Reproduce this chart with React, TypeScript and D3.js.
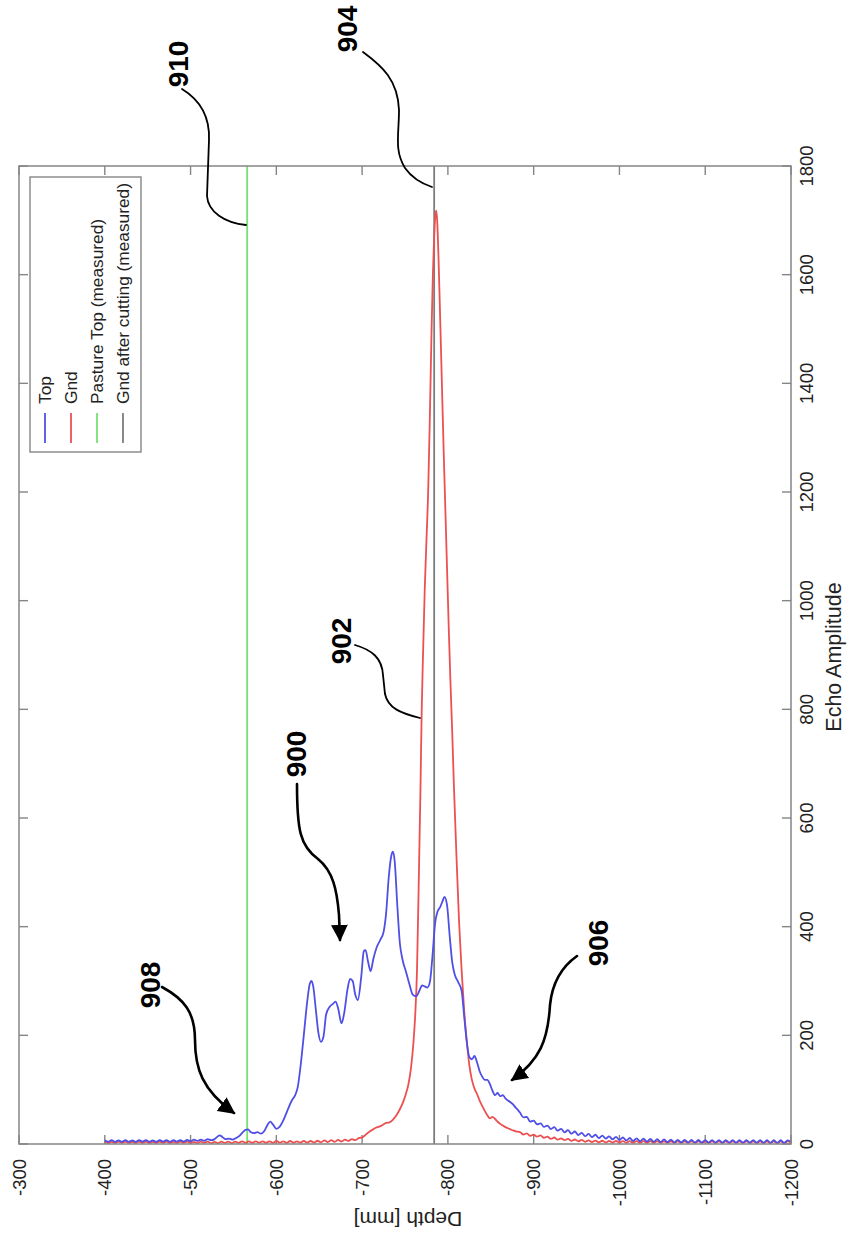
import React from "react";
import * as d3 from "d3";

const W = 853;
const H = 1251;
const PLOT = { left: 19, right: 791, top: 166, bottom: 1144 };

const depthTicks = [-300, -400, -500, -600, -700, -800, -900, -1000, -1100, -1200];
const ampTicks = [0, 200, 400, 600, 800, 1000, 1200, 1400, 1600, 1800];

const legendLabels = ["Top", "Gnd", "Pasture Top (measured)", "Gnd after cutting (measured)"];
const seriesColors = ["#4f4fe6", "#ec5050", "#74e274", "#7d7d7d"];

// measured reference depths (mm)
const PASTURE_TOP_DEPTH = -566;
const GND_CUT_DEPTH = -784;

// uniformly sampled stretches: amplitude every 4 mm
const SAMPLE_STEP = -4;

// "Top" echo
const TOP_HEAD_START = -400;
const topHead = [
  7, 4, 7, 4, 6.5, 4, 7, 4, 6.5, 4,
  7, 4.5, 7, 4, 6.5, 4, 7, 4.5, 7, 4,
  7, 4.5, 7, 4.5, 7.5, 5, 8, 5.5, 8, 6,
  9, 7,
];
const topBody: [number, number][] = [
  [-528, 9], [-531, 13], [-534, 16], [-537, 13], [-541, 9], [-545, 10], [-549, 8],
  [-553, 11], [-557, 15], [-561, 22], [-564, 26], [-567, 27], [-570, 22], [-574, 20],
  [-578, 22], [-582, 19], [-586, 24], [-590, 36], [-593, 41], [-596, 36], [-600, 28],
  [-604, 32], [-608, 43], [-613, 62], [-618, 80], [-622, 90], [-625, 105], [-628, 140],
  [-632, 200], [-636, 262], [-639, 295], [-641, 300], [-643, 290], [-646, 248],
  [-649, 205], [-652, 188], [-655, 198], [-658, 238], [-662, 252], [-666, 258],
  [-669, 262], [-672, 250], [-676, 222], [-679, 240], [-683, 285], [-686, 304],
  [-689, 300], [-692, 275], [-695, 265], [-699, 308], [-702, 355], [-704, 357],
  [-707, 335], [-710, 318], [-713, 340], [-717, 362], [-721, 375], [-725, 390],
  [-728, 425], [-731, 490], [-734, 530], [-736, 538], [-738, 520], [-741, 440],
  [-744, 370], [-747, 340], [-751, 318], [-755, 295], [-759, 275], [-763, 272],
  [-767, 283], [-770, 292], [-773, 290], [-776, 288], [-779, 298], [-782, 345],
  [-785, 405], [-788, 428], [-791, 436], [-794, 448], [-796, 455], [-799, 440],
  [-802, 385], [-805, 335], [-808, 312], [-812, 298], [-816, 282], [-819, 235],
  [-822, 188], [-825, 160], [-828, 156], [-831, 162], [-834, 150], [-837, 134],
  [-840, 124], [-843, 118], [-846, 118], [-849, 110], [-852, 98], [-855, 90],
  [-858, 94], [-861, 88], [-864, 90], [-867, 84], [-870, 80], [-873, 77],
  [-876, 73], [-879, 67], [-882, 62],
];
const TOP_TAIL_START = -884;
const topTail = [
  58, 49, 50, 41, 43, 36, 38, 31.5, 34, 27.5,
  31, 24.5, 28, 21.5, 25.5, 19, 23, 16.5, 20.5, 14.5,
  18.5, 12.5, 17, 11, 15.5, 10, 14, 8.5, 13, 7.5,
  12, 6.5, 11, 5.5, 10.3, 5, 9.7, 4.5, 9.2, 4,
  8.8, 3.5, 8.4, 3.2, 8, 2.9, 7.7, 2.8, 7.6, 2.7,
  7.5, 2.6, 7.4, 2.6, 7.3, 2.5, 7.3, 2.5, 7.2, 2.5,
  7.2, 2.4, 7.1, 2.4, 7.1, 2.4, 7, 2.3, 7, 2.3,
  7, 2.3, 6.9, 2.3, 6.9, 2.2, 6.9, 2.2, 6.8, 4,
];

// "Gnd" echo
const GND_HEAD_START = -400;
const gndHead = [
  4.5, 1.5, 4, 1.5, 4.5, 2, 4.5, 1.5, 4, 1.5,
  4.5, 2, 4.5, 1.5, 4, 1.5, 4.5, 2, 4.5, 1.5,
  4, 1.5, 4.5, 2, 4.5, 1.5, 4, 1.5, 4.5, 2,
  4.5, 1.5, 4, 1.5, 4.5, 2, 4.5, 1.5, 4.5, 2,
  5, 2, 5, 2, 5, 2.5, 5, 2, 5, 2,
  5.5, 2.5, 5, 2, 5.5, 2.5, 5, 2.5, 5.5, 2.5,
  5.5, 2.5, 6, 3, 6.5, 3.5, 7, 4, 7.5, 4.5,
  8, 5.5, 9, 7, 11,
];
const gndBody: [number, number][] = [
  [-700, 12], [-704, 17], [-708, 22], [-712, 26], [-716, 30], [-720, 32], [-724, 35],
  [-728, 39], [-732, 40], [-736, 45], [-740, 53], [-744, 64], [-748, 78], [-751, 92],
  [-754, 110], [-757, 140], [-760, 190], [-762, 240], [-764, 320], [-766, 480],
  [-768, 650], [-769.5, 800], [-771, 900], [-773, 1020], [-775, 1110], [-777, 1200],
  [-779, 1340], [-781, 1500], [-782.5, 1600], [-784, 1670], [-785.5, 1710],
  [-786.5, 1718], [-787.5, 1700], [-789, 1635], [-791, 1520], [-793, 1400],
  [-795, 1280], [-797, 1170], [-799, 1060], [-801, 950], [-803, 850], [-805, 760],
  [-807, 660], [-810, 530], [-813, 410], [-816, 320], [-819, 245], [-822, 190],
  [-825, 145], [-828, 118], [-831, 102], [-834, 92], [-837, 80], [-840, 70],
  [-843, 61], [-846, 53], [-849, 47], [-852, 50], [-855, 46], [-858, 41],
  [-861, 37], [-864, 34], [-867, 31], [-870, 29], [-873, 27], [-876, 25], [-880, 23],
];
const GND_TAIL_START = -884;
const gndTail = [
  22, 17.5, 19.5, 15, 17, 13.5, 16, 11.5, 13.5, 9.5,
  12, 8, 10.5, 7, 9.5, 5.8, 8.3, 4.9, 7.5, 4.1,
  6.8, 3.5, 6.3, 3.1, 6, 2.8, 5.7, 2.6, 5.5, 2.5,
  5.4, 2.4, 5.3, 2.3, 5.3, 2.3, 5.2, 2.3, 5.2, 2.2,
  5.2, 2.2, 5.1, 2.2, 5.1, 2.2, 5.1, 2.1, 5, 2.1,
  5, 2.1, 5, 2.1, 5, 2.1, 5, 2, 4.9, 2,
  4.9, 2, 4.9, 2, 4.9, 2, 4.9, 2, 4.8, 2,
  4.8, 2, 4.8, 2, 4.8, 2, 4.8, 2, 4.8, 3,
];

// callout labels: text, label centre, leader path, arrowhead
const callouts = [
  { label: "910", cx: 178, cy: 64, d: "M182,89 C200,100 210,116 209,140 L207,196 C208,212 225,223 246,225", arrow: false, w: 1.8 },
  { label: "904", cx: 347, cy: 29, d: "M363,52 C382,66 398,80 399,110 C399,135 394,150 405,168 C412,178 420,183 432,187", arrow: false, w: 1.8 },
  { label: "902", cx: 341, cy: 641, d: "M355,645 C372,650 382,658 383,675 L385,694 C388,708 400,713 420,718", arrow: false, w: 1.8 },
  { label: "900", cx: 296, cy: 754, d: "M297,784 C297,830 300,846 318,859 C333,871 337,890 339,915 L340,940", arrow: true, w: 2.6 },
  { label: "908", cx: 150, cy: 985, d: "M162,987 C184,999 195,1012 195,1040 C195,1068 202,1090 234,1113", arrow: true, w: 2.6 },
  { label: "906", cx: 598, cy: 943, d: "M577,956 C560,968 552,985 550,1005 C548,1040 540,1060 512,1080", arrow: true, w: 2.6 },
];

const FONT = "'Liberation Sans', Arial, Helvetica, sans-serif";

export default function App() {
  const x = d3.scaleLinear().domain([-300, -1200]).range([PLOT.left, PLOT.right]);
  const y = d3.scaleLinear().domain([0, 1800]).range([PLOT.bottom, PLOT.top]);

  const sampled = (start: number, vals: number[]): [number, number][] =>
    vals.map((v, i) => [start + i * SAMPLE_STEP, v] as [number, number]);

  const topSeries = [...sampled(TOP_HEAD_START, topHead), ...topBody, ...sampled(TOP_TAIL_START, topTail)];
  const gndSeries = [...sampled(GND_HEAD_START, gndHead), ...gndBody, ...sampled(GND_TAIL_START, gndTail)];

  const line = d3
    .line<[number, number]>()
    .x((d) => x(d[0]))
    .y((d) => y(d[1]))
    .curve(d3.curveMonotoneX);

  const axisColor = "#858585";
  const tickLen = 9;

  const legendX = [45, 71, 97, 123];

  return (
    <svg
      width={W}
      height={H}
      viewBox={`0 0 ${W} ${H}`}
      style={{ position: "absolute", left: 0, top: 0, background: "#fff" }}
      fontFamily={FONT}
    >
      <defs>
        <marker id="arrowHead" viewBox="0 0 10 10" refX="9" refY="5" markerWidth="6.5" markerHeight="6.5" orient="auto" markerUnits="strokeWidth">
          <path d="M0,0 L10,5 L0,10 z" fill="#000" />
        </marker>
      </defs>
      <rect x={0} y={0} width={W} height={H} fill="#fff" />

      {/* ticks on all four sides, pointing inward */}
      <g stroke={axisColor} strokeWidth={1.4}>
        {depthTicks.map((t) => (
          <g key={"dt" + t}>
            <line x1={x(t)} x2={x(t)} y1={PLOT.bottom} y2={PLOT.bottom - tickLen} />
            <line x1={x(t)} x2={x(t)} y1={PLOT.top} y2={PLOT.top + tickLen} />
          </g>
        ))}
        {ampTicks.map((t) => (
          <g key={"at" + t}>
            <line x1={PLOT.right} x2={PLOT.right - tickLen} y1={y(t)} y2={y(t)} />
            <line x1={PLOT.left} x2={PLOT.left + tickLen} y1={y(t)} y2={y(t)} />
          </g>
        ))}
      </g>

      {/* reference lines */}
      <line x1={x(PASTURE_TOP_DEPTH)} x2={x(PASTURE_TOP_DEPTH)} y1={PLOT.top} y2={PLOT.bottom} stroke={seriesColors[2]} strokeWidth={1.8} />
      <line x1={x(GND_CUT_DEPTH)} x2={x(GND_CUT_DEPTH)} y1={PLOT.top} y2={PLOT.bottom} stroke={seriesColors[3]} strokeWidth={1.8} />

      {/* echo traces */}
      <path d={line(gndSeries) || ""} fill="none" stroke={seriesColors[1]} strokeWidth={1.8} strokeLinejoin="round" />
      <path d={line(topSeries) || ""} fill="none" stroke={seriesColors[0]} strokeWidth={1.8} strokeLinejoin="round" />

      {/* frame */}
      <rect x={PLOT.left} y={PLOT.top} width={PLOT.right - PLOT.left} height={PLOT.bottom - PLOT.top} fill="none" stroke={axisColor} strokeWidth={1.5} />

      {/* depth tick labels */}
      {depthTicks.map((t) => (
        <text
          key={"dl" + t}
          transform={`translate(${x(t)},${PLOT.bottom + 15}) rotate(-90)`}
          textAnchor="end"
          dominantBaseline="central"
          fontSize={18.5}
          fill="#222"
        >
          {t}
        </text>
      ))}
      {/* amplitude tick labels */}
      {ampTicks.map((t) => (
        <text
          key={"al" + t}
          transform={`translate(${PLOT.right + 22},${y(t)}) rotate(-90)`}
          textAnchor="middle"
          fontSize={18.5}
          fill="#222"
        >
          {t}
        </text>
      ))}
      <text transform={`translate(841,657) rotate(-90)`} textAnchor="middle" fontSize={21.5} fill="#222">
        Echo Amplitude
      </text>
      <text transform={`translate(408,1212) rotate(180)`} textAnchor="middle" fontSize={21} fill="#222">
        Depth [mm]
      </text>

      {/* legend */}
      <rect x={30} y={177} width={111} height={275} fill="#fff" stroke={axisColor} strokeWidth={1.4} />
      {legendLabels.map((lab, i) => (
        <g key={lab}>
          <line x1={legendX[i]} x2={legendX[i]} y1={443} y2={413} stroke={seriesColors[i]} strokeWidth={1.8} />
          <text
            transform={`translate(${legendX[i]},404) rotate(-90)`}
            dominantBaseline="central"
            fontSize={17.3}
            fill="#222"
          >
            {lab}
          </text>
        </g>
      ))}

      {/* callouts */}
      {callouts.map((c) => (
        <g key={c.label}>
          <path
            d={c.d}
            fill="none"
            stroke="#000"
            strokeWidth={c.w}
            strokeLinecap="round"
            markerEnd={c.arrow ? "url(#arrowHead)" : undefined}
          />
          <text
            transform={`translate(${c.cx},${c.cy}) rotate(-90)`}
            textAnchor="middle"
            dominantBaseline="central"
            fontSize={28}
            fontWeight="bold"
            fill="#000"
          >
            {c.label}
          </text>
        </g>
      ))}
    </svg>
  );
}
